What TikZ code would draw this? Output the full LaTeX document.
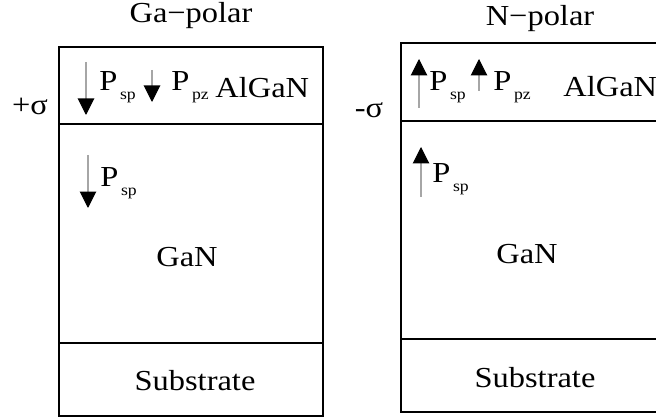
\documentclass[tikz,border=0pt]{standalone}
\usepackage{fontspec}
\setmainfont{Liberation Serif}[FakeStretch=1.12]
\usetikzlibrary{arrows.meta}
\newcommand{\pol}[1]{P\kern1.5pt\raisebox{-5pt}{\fontsize{9}{9}\selectfont #1}}

\begin{document}
\begin{tikzpicture}[x=0.02cm, y=-0.02cm, every node/.style={inner sep=0pt,
  font=\fontsize{16.5}{18}\selectfont}, layer/.style={line width=1.7pt},
  pvec/.style={draw=gray!70, line width=0.6pt,
  -{Triangle[length=0.33cm, width=0.33cm, color=black]}}]
  \useasboundingbox (0,0) rectangle (656,418);
  \clip (0,0) rectangle (656,418);
  % Ga-polar stack
  \draw[layer] (59,47) rectangle (323,416);
  \draw[layer] (59,124) -- (323,124);
  \draw[layer] (59,343) -- (323,343);
  \node[anchor=base] (gatitle) at (191,23) {Ga−polar};
  \node[anchor=base] (plussig) at (30,115) {+σ};
  \node[anchor=base west] (gapsp) at (99,91) {\pol{sp}};
  \node[anchor=base west] (gappz) at (171,91) {\pol{pz}};
  \node[anchor=base west] (gaalgan) at (215,98) {AlGaN};
  \node[anchor=base west] (gapsp2) at (100,187) {\pol{sp}};
  \node[anchor=base] (gagan) at (187,267) {GaN};
  \node[anchor=base] (gasub) at (195,391) {Substrate};
  % N-polar stack
  \draw[layer] (401,43) rectangle (669,412);
  \draw[layer] (401,121) -- (669,121);
  \draw[layer] (401,339) -- (669,339);
  \node[anchor=base] (ntitle) at (540,26) {N−polar};
  \node[anchor=base] (minsig) at (369,118) {-σ};
  \node[anchor=base west] (npsp) at (429,91) {\pol{sp}};
  \node[anchor=base west] (nppz) at (493,91) {\pol{pz}};
  \node[anchor=base west] (nalgan) at (563,97) {AlGaN};
  \node[anchor=base west] (npsp2) at (432,183) {\pol{sp}};
  \node[anchor=base] (ngan) at (527,264) {GaN};
  \node[anchor=base] (nsub) at (535,388) {Substrate};
  % polarisation vectors
  \foreach \n/\x/\ya/\yb in {ga1/86/62/115, ga2/152/70/102, ga3/88/155/208,
    n1/419/108/59, n2/479/91/59, n3/421/197/147} {
    \coordinate (\n-s) at (\x,\ya);
    \coordinate (\n-e) at (\x,\yb);
    \draw[pvec] (\n-s) -- (\n-e);
  }
\end{tikzpicture}
\end{document}
